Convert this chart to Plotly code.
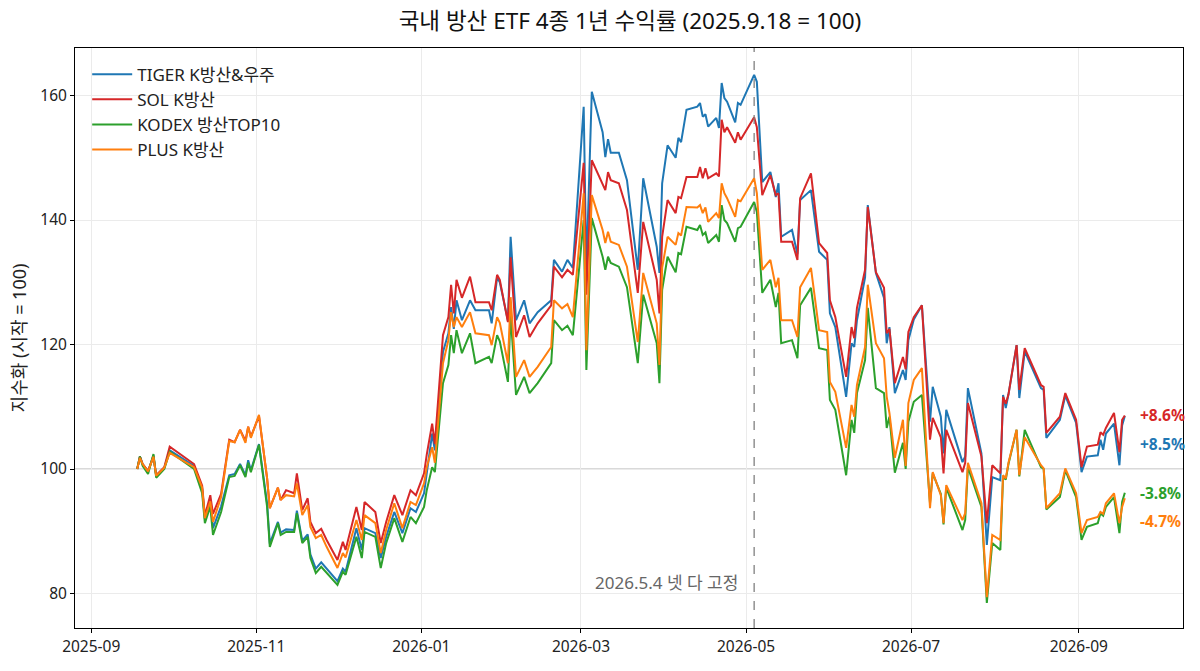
import plotly.graph_objects as go
from datetime import date, timedelta

# 국내 방산 ETF 4종, 2025.9.18 = 100 기준 지수
dates = [
    "2025-09-18", "2025-09-19", "2025-09-20", "2025-09-22", "2025-09-24", "2025-09-25", "2025-09-28", "2025-09-30", "2025-10-09", "2025-10-12",
    "2025-10-13", "2025-10-15", "2025-10-16", "2025-10-19", "2025-10-22", "2025-10-24", "2025-10-26", "2025-10-28", "2025-10-29", "2025-10-30",
    "2025-11-02", "2025-11-05", "2025-11-06", "2025-11-09", "2025-11-10", "2025-11-12", "2025-11-15", "2025-11-16", "2025-11-18", "2025-11-20",
    "2025-11-21", "2025-11-23", "2025-11-25", "2025-11-27", "2025-12-01", "2025-12-03", "2025-12-04", "2025-12-08", "2025-12-10", "2025-12-11",
    "2025-12-15", "2025-12-17", "2025-12-19", "2025-12-22", "2025-12-25", "2025-12-28", "2025-12-30", "2026-01-02", "2026-01-03", "2026-01-05",
    "2026-01-06", "2026-01-09", "2026-01-11", "2026-01-12", "2026-01-13", "2026-01-14", "2026-01-16", "2026-01-19", "2026-01-21", "2026-01-26",
    "2026-01-27", "2026-01-29", "2026-01-30", "2026-02-02", "2026-02-03", "2026-02-05", "2026-02-08", "2026-02-10", "2026-02-13", "2026-02-18",
    "2026-02-19", "2026-02-22", "2026-02-24", "2026-02-26", "2026-03-02", "2026-03-03", "2026-03-05", "2026-03-09", "2026-03-10", "2026-03-11",
    "2026-03-12", "2026-03-15", "2026-03-18", "2026-03-22", "2026-03-24", "2026-03-29", "2026-03-30", "2026-03-31", "2026-04-02", "2026-04-05",
    "2026-04-06", "2026-04-07", "2026-04-09", "2026-04-13", "2026-04-14", "2026-04-15", "2026-04-16", "2026-04-17", "2026-04-20", "2026-04-21",
    "2026-04-22", "2026-04-23", "2026-04-24", "2026-04-27", "2026-04-28", "2026-04-29", "2026-05-04", "2026-05-05", "2026-05-07", "2026-05-10",
    "2026-05-12", "2026-05-13", "2026-05-14", "2026-05-18", "2026-05-20", "2026-05-21", "2026-05-25", "2026-05-28", "2026-05-31", "2026-06-01",
    "2026-06-03", "2026-06-07", "2026-06-09", "2026-06-10", "2026-06-11", "2026-06-14", "2026-06-15", "2026-06-18", "2026-06-21", "2026-06-22",
    "2026-06-23", "2026-06-25", "2026-06-28", "2026-06-29", "2026-06-30", "2026-07-02", "2026-07-05", "2026-07-08", "2026-07-09", "2026-07-12",
    "2026-07-13", "2026-07-14", "2026-07-20", "2026-07-21", "2026-07-22", "2026-07-27", "2026-07-29", "2026-07-31", "2026-08-03", "2026-08-04",
    "2026-08-05", "2026-08-06", "2026-08-09", "2026-08-10", "2026-08-12", "2026-08-18", "2026-08-19", "2026-08-20", "2026-08-25", "2026-08-27",
    "2026-08-31", "2026-09-02", "2026-09-04", "2026-09-08", "2026-09-09", "2026-09-10", "2026-09-11", "2026-09-14", "2026-09-16", "2026-09-17",
    "2026-09-18",
]

tiger = [
    100.0, 102.0, 100.8, 99.6, 102.2, 98.9, 100.2, 103.0, 100.5, 96.8,
    92.0, 95.0, 90.5, 94.0, 99.0, 99.2, 100.8, 99.0, 101.4, 99.8,
    104.0, 94.5, 88.0, 91.5, 89.8, 90.3, 90.2, 93.3, 88.5, 89.5,
    86.3, 84.0, 85.0, 84.0, 82.0, 84.0, 83.5, 90.5, 87.0, 90.5,
    89.7, 85.7, 89.1, 93.1, 89.7, 93.7, 93.1, 96.1, 99.3, 105.7,
    103.0, 118.8, 121.8, 126.0, 122.5, 127.1, 123.9, 127.1, 125.5, 125.5,
    123.4, 130.8, 130.0, 123.8, 137.3, 123.9, 127.1, 123.4, 125.2, 127.1,
    133.6, 131.7, 133.6, 132.3, 158.2, 132.0, 160.6, 154.1, 150.1, 153.0,
    150.8, 150.8, 146.4, 132.0, 146.7, 135.7, 131.5, 145.9, 152.0, 150.0,
    153.2, 152.5, 157.7, 158.2, 158.8, 156.6, 157.0, 155.0, 156.4, 154.8,
    162.0, 159.6, 159.0, 155.7, 158.8, 158.5, 163.3, 162.2, 146.1, 147.7,
    143.7, 145.9, 137.3, 138.4, 134.5, 143.2, 144.8, 134.9, 133.6, 125.0,
    122.8, 111.6, 120.2, 119.6, 123.9, 130.8, 142.4, 131.5, 127.5, 120.2,
    122.8, 112.2, 115.9, 114.3, 120.7, 124.0, 126.3, 107.6, 113.2, 108.4,
    102.5, 109.5, 101.1, 102.0, 113.0, 102.5, 87.8, 98.7, 98.2, 111.9,
    109.8, 112.0, 119.9, 111.4, 118.9, 113.0, 112.7, 105.0, 107.9, 111.8,
    107.4, 99.5, 102.0, 102.2, 104.7, 103.1, 105.7, 107.3, 100.6, 107.0,
    108.5,
]

sol = [
    100.0, 102.0, 100.8, 99.7, 102.0, 99.0, 100.3, 103.6, 100.8, 97.3,
    92.5, 95.8, 92.8, 96.0, 104.7, 104.3, 106.3, 104.5, 106.8, 105.2,
    108.5, 98.5, 93.7, 97.0, 95.0, 96.6, 96.1, 99.3, 93.4, 95.3,
    91.5, 89.7, 90.4, 88.6, 85.4, 88.3, 87.0, 93.9, 90.2, 94.7,
    93.1, 88.1, 91.5, 95.8, 92.6, 96.6, 95.8, 99.3, 102.3, 107.3,
    104.0, 121.5, 124.4, 129.6, 125.0, 130.4, 127.5, 130.9, 126.8, 126.8,
    125.5, 131.2, 130.4, 123.6, 134.0, 121.2, 124.7, 121.2, 123.4, 126.3,
    132.5, 130.8, 132.0, 131.2, 149.2, 128.0, 149.6, 145.6, 144.8, 147.7,
    146.4, 145.9, 141.6, 128.3, 139.7, 130.4, 125.0, 137.3, 143.2, 141.1,
    143.7, 143.5, 146.9, 146.9, 148.5, 146.7, 148.3, 146.7, 147.5, 147.0,
    156.1, 154.1, 154.9, 152.4, 154.1, 152.9, 156.5, 154.9, 144.0, 147.2,
    144.0, 144.3, 136.5, 136.5, 133.6, 143.5, 147.5, 136.3, 134.7, 127.1,
    124.4, 114.8, 122.8, 121.0, 125.9, 132.0, 142.1, 131.6, 129.1, 121.8,
    122.5, 113.8, 118.0, 116.0, 122.0, 124.4, 126.3, 104.7, 108.2, 105.1,
    99.3, 106.3, 99.5, 101.0, 110.6, 102.0, 91.3, 100.6, 99.3, 111.6,
    110.5, 112.0, 119.9, 112.7, 119.4, 113.5, 113.2, 105.8, 108.4, 112.2,
    107.9, 100.3, 103.6, 103.9, 105.9, 105.5, 106.6, 109.0, 102.7, 107.9,
    108.6,
]

kodex = [
    100.0, 102.0, 100.5, 99.2, 102.4, 98.6, 100.0, 102.8, 100.0, 96.1,
    91.3, 94.0, 89.4, 93.1, 98.7, 98.9, 100.6, 98.7, 101.0, 99.5,
    103.9, 93.9, 87.5, 91.3, 89.4, 89.9, 89.9, 92.9, 88.1, 89.1,
    85.7, 83.3, 84.3, 83.3, 81.4, 83.5, 83.0, 89.1, 85.7, 89.9,
    89.1, 84.1, 88.1, 92.1, 88.3, 92.3, 91.3, 93.9, 96.6, 100.3,
    99.5, 113.8, 116.7, 121.5, 118.6, 122.3, 118.6, 121.8, 117.0, 118.0,
    117.0, 121.5, 120.5, 114.0, 124.7, 111.9, 114.8, 112.2, 113.8, 117.0,
    123.9, 122.3, 123.0, 121.5, 140.0, 115.9, 140.3, 134.1, 132.0, 134.1,
    133.1, 132.5, 129.2, 117.0, 128.0, 120.2, 113.8, 128.8, 134.1, 131.6,
    134.7, 134.5, 138.9, 138.4, 139.2, 137.6, 138.0, 136.3, 137.6, 136.5,
    142.4, 140.0, 139.5, 136.5, 138.7, 138.9, 142.9, 141.3, 128.3, 130.4,
    126.0, 128.3, 120.2, 120.7, 117.8, 126.3, 129.1, 119.4, 119.1, 111.1,
    109.5, 99.0, 107.9, 105.8, 112.2, 117.5, 125.9, 113.0, 112.2, 106.6,
    108.4, 99.4, 104.2, 100.0, 107.6, 110.8, 111.9, 94.5, 99.3, 96.0,
    91.1, 97.0, 90.2, 91.8, 100.3, 93.9, 78.5, 88.1, 87.0, 98.8,
    98.3, 100.8, 106.3, 98.8, 106.3, 100.3, 100.0, 93.5, 95.5, 99.8,
    95.5, 88.6, 90.7, 91.3, 92.9, 92.5, 93.9, 95.5, 89.7, 94.7,
    96.2,
]

plus = [
    100.0, 101.8, 100.8, 99.6, 102.0, 98.9, 100.2, 102.6, 100.3, 97.0,
    92.1, 94.8, 91.5, 95.5, 104.5, 104.3, 106.3, 104.2, 106.8, 105.0,
    108.7, 98.5, 93.7, 97.0, 95.0, 95.8, 95.6, 97.7, 92.6, 94.2,
    90.7, 88.9, 89.4, 87.5, 84.1, 86.5, 85.8, 91.8, 88.6, 92.6,
    91.3, 86.5, 90.2, 94.5, 90.5, 94.7, 94.2, 97.7, 100.3, 103.5,
    101.0, 117.0, 120.7, 125.2, 122.8, 124.4, 122.8, 125.2, 121.8, 121.5,
    119.9, 124.4, 123.5, 117.0, 127.6, 114.8, 117.5, 114.8, 116.4, 119.6,
    127.1, 125.8, 126.5, 124.4, 144.3, 119.1, 144.0, 138.4, 136.3, 138.1,
    136.5, 136.0, 132.5, 120.4, 131.5, 123.4, 116.7, 132.3, 137.3, 136.0,
    137.9, 137.5, 142.1, 142.0, 142.4, 141.1, 142.0, 139.7, 141.1, 140.3,
    145.9, 144.3, 143.5, 140.5, 143.2, 143.0, 146.7, 144.3, 132.0, 133.6,
    129.2, 130.7, 123.9, 123.9, 121.2, 129.2, 132.3, 122.3, 122.0, 114.0,
    112.4, 103.4, 110.3, 108.4, 113.5, 119.6, 129.6, 120.2, 117.8, 111.6,
    109.0, 101.8, 107.9, 100.5, 110.6, 114.3, 116.2, 93.7, 99.5, 95.8,
    91.3, 97.4, 91.8, 92.9, 101.0, 94.5, 79.4, 89.4, 88.6, 99.0,
    98.5, 101.0, 106.3, 99.0, 105.1, 100.6, 100.1, 93.7, 96.1, 100.1,
    96.1, 89.7, 91.8, 92.3, 93.1, 92.8, 94.5, 96.1, 91.3, 93.9,
    95.3,
]

names = ["TIGER K방산&우주", "SOL K방산", "KODEX 방산TOP10", "PLUS K방산"]
colors = ["#1f77b4", "#d62728", "#2ca02c", "#ff7f0e"]
fix_date = "2026-05-04"
fix_label = "2026.5.4 넷 다 고정"

FONT = "Noto Sans, Noto Sans CJK KR, sans-serif"
series = [tiger, sol, kodex, plus]

fig = go.Figure()
for name, ys, c in zip(names, series, colors):
    fig.add_trace(go.Scatter(x=dates, y=ys, mode="lines", name=name,
                             legendgroup=name,
                             line=dict(color=c, width=2)))

# 기준선 100, 고정일 점선
fig.add_hline(y=100, line=dict(color="#b3b3b3", width=1.2), layer="below")
fig.add_vline(x=fix_date, line=dict(color="#808080", width=1.3, dash="dash"))
fig.add_annotation(x=fix_date, y=81.7, text=fix_label, showarrow=False,
                   xanchor="right", xshift=-14,
                   font=dict(family=FONT, size=17, color="#666666"))

# 끝값 라벨 (겹치지 않게 아래로 밀기)
last_day = date.fromisoformat(dates[-1])
ends = sorted([(s[-1], n, c) for s, n, c in zip(series, names, colors)], reverse=True)
prev = None
for val, n, c in ends:
    ypos = val if prev is None else min(val, prev - 4.6)
    prev = ypos
    fig.add_annotation(x=(last_day + timedelta(days=5)).isoformat(), y=ypos,
                       text="<b>%+.1f%%</b>" % (val - 100), showarrow=False,
                       xanchor="left", yanchor="middle",
                       font=dict(family=FONT, size=15.5, color=c))

axis_common = dict(showline=True, linecolor="black", linewidth=1, mirror=True,
                   ticks="outside", ticklen=4, tickcolor="black",
                   showgrid=True, gridcolor="#ebebeb", gridwidth=1,
                   zeroline=False, tickfont=dict(family=FONT, size=15.5, color="#222"))

fig.update_layout(
    width=1200, height=671,
    margin=dict(l=75, r=17, t=48, b=43, autoexpand=False),
    paper_bgcolor="white", plot_bgcolor="white",
    font=dict(family=FONT, size=15, color="#222"),
    title=dict(text="국내 방산 ETF 4종 1년 수익률 (2025.9.18 = 100)",
               x=0.525, xanchor="center", y=0.968, yanchor="middle",
               font=dict(family=FONT, size=22.5, color="#111")),
    xaxis=dict(type="date", range=["2025-08-26", "2026-10-09 12:00"],
               tick0="2025-09-01", dtick="M2", tickformat="%Y-%m", **axis_common),
    yaxis=dict(range=[74.46, 167.63], tick0=80, dtick=20,
               title=dict(text="지수화 (시작 = 100)", standoff=8,
                          font=dict(family=FONT, size=18, color="#222")),
               **axis_common),
    legend=dict(x=0.011, y=0.985, xanchor="left", yanchor="top",
                traceorder="grouped", tracegroupgap=0, itemwidth=40,
                bgcolor="rgba(0,0,0,0)",
                font=dict(family=FONT, size=17, color="#222")),
    showlegend=True,
)

fig.write_html("out.html", config={"displayModeBar": False},
               post_script="document.body.style.margin='0';")
